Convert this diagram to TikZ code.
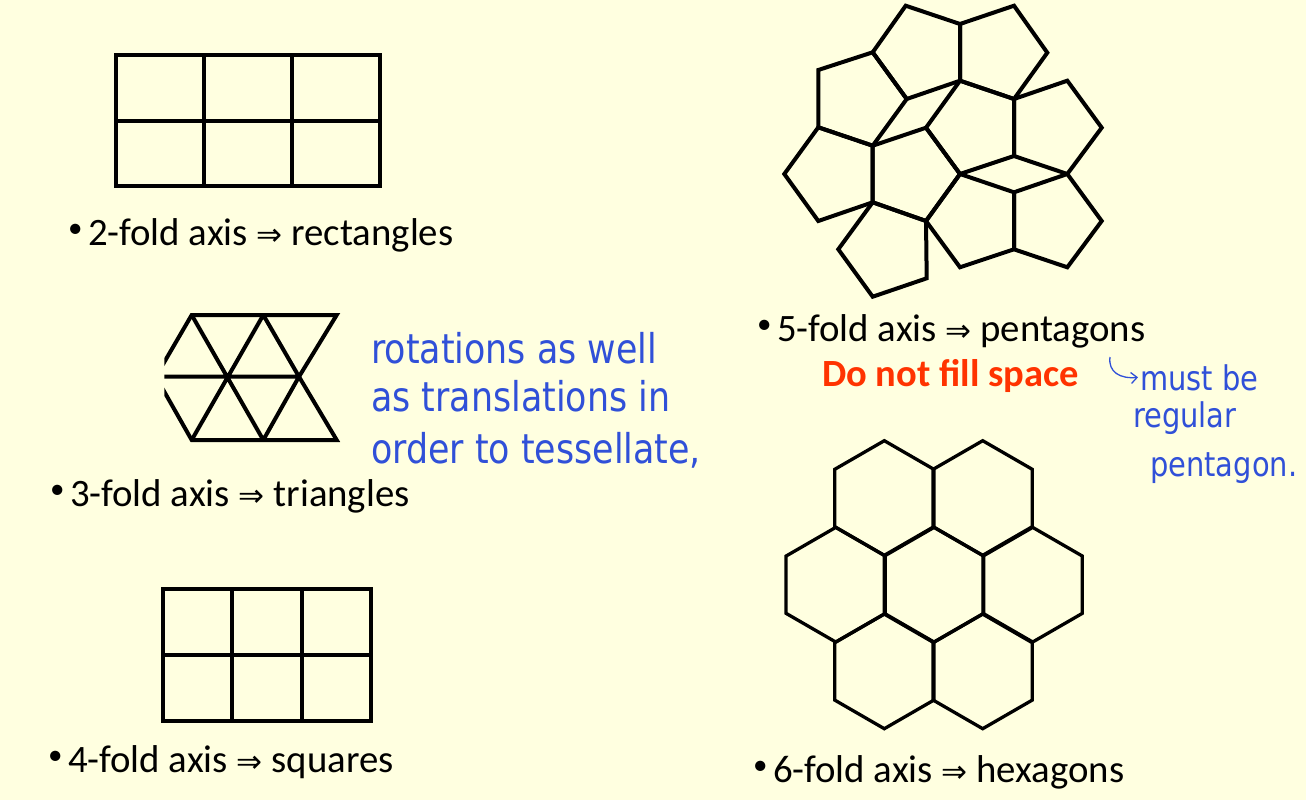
\documentclass[tikz,border=0pt]{standalone}
\usepackage{fontspec}
\setmainfont{Carlito}
\newfontfamily\handfont[FakeStretch=0.85]{DejaVu Sans}
\newfontfamily\arrowfont{DejaVu Sans}
\usetikzlibrary{positioning,arrows.meta}
\definecolor{slidebg}{HTML}{FFFFE0}
\definecolor{inkblue}{HTML}{3050D8}
\definecolor{warnred}{HTML}{FF3300}
\newcommand{\bul}{\makebox[20pt][l]{\raisebox{8pt}{\fontsize{29}{29}\selectfont •}}}
\newcommand{\implies}{{\arrowfont\fontsize{31}{31}\selectfont ⇒}}
\tikzset{
    tiling/.style = {
        draw=black,
        line width=4pt,
        line join=miter
    },
    hextiling/.style = {
        tiling,
        line width=3.3pt
    },
    bulletlabel/.style = {
        anchor=base west,
        inner sep=0pt,
        font=\fontsize{38.8}{40}\selectfont
    },
    warnlabel/.style = {
        bulletlabel,
        font=\fontsize{38.5}{40}\selectfont\bfseries,
        text=warnred
    },
    handnote/.style = {
        anchor=base west,
        inner sep=0pt,
        font=\handfont\fontsize{41}{44}\selectfont,
        text=inkblue
    },
    smallhandnote/.style = {
        handnote,
        font=\handfont\fontsize{34}{37}\selectfont
    }
}

\begin{document}
\begin{tikzpicture}[x=1pt,y=-1pt]
    \fill[slidebg] (0,0) rectangle (1306,800);
    \useasboundingbox (0,0) rectangle (1306,800);

    % 2-fold: rectangles
    \draw[tiling] (115.7,55) rectangle (380,186);
    \draw[tiling] (115.7,121) -- (380,121)
        (204.3,55) -- (204.3,186)
        (292.3,55) -- (292.3,186);
    \node[bulletlabel] (rectlabel) at (68,245) {\bul 2-fold axis \implies{} rectangles};

    % 3-fold: triangles
    \begin{scope}
        \clip (164.3,300) rectangle (360,460);
        \draw[tiling] (191.7,315) -- (336.7,315) -- (299,376.7) -- (336.7,440)
            -- (191.7,440) -- (155.8,376.7) -- cycle;
        \draw[tiling] (155.8,376.7) -- (299,376.7)
            (191.7,315) -- (263.3,440)
            (263.3,315) -- (191.7,440)
            (263.3,315) -- (299,376.7) -- (263.3,440);
    \end{scope}
    \node[bulletlabel] (trilabel) at (50,506.5) {\bul 3-fold axis \implies{} triangles};
    \node[handnote] (note1) at (371,363) {rotations as well};
    \node[handnote] (note2) at ([yshift=-48pt]note1.base west) {as translations in};
    \node[handnote] (note3) at ([yshift=-52pt]note2.base west) {order to tessellate,};

    % 4-fold: squares
    \draw[tiling] (162.7,589.3) rectangle (370.7,720.7);
    \draw[tiling] (162.7,655) -- (370.7,655)
        (231.7,589.3) -- (231.7,720.7)
        (301.7,589.3) -- (301.7,720.7);
    \node[bulletlabel] (sqlabel) at (48,772) {\bul 4-fold axis \implies{} squares};

    % 5-fold: pentagons
    \foreach \n/\x/\y in {a/905.7/5.7, b/960/24, c/1014/5.7, d/1047.3/52.7,
        e/960/80.7, f/1014/99, g/872.7/52.3, h/906.7/99, i/818.3/70,
        j/818.3/127.3, k/872.7/145.7, l/926/127.7, m/960/174, n/1014/156,
        o/1067.3/80.7, p/1101.7/127.7, q/1067.3/174, r/784.3/174,
        s/818.3/221, t/872.7/202.3, u/926/221, v/1014/192.3, w/1101.7/221,
        x/1067.3/267.3, y/1014/249.3, z/960/267.3, aa/838.3/249.3,
        ab/872.7/296.7, ac/926.7/278.3}
        \coordinate (v\n) at (\x,\y);
    \foreach \p/\q/\r/\s/\t in {a/b/e/h/g, b/c/d/f/e, i/g/h/k/j, e/f/n/m/l,
        f/o/p/q/n, j/k/t/s/r, k/l/m/u/t, m/v/y/z/u, v/q/w/x/y, t/u/ac/ab/aa}
        \draw[tiling] (v\p) -- (v\q) -- (v\r) -- (v\s) -- (v\t) -- cycle;
    \node[bulletlabel] (pentlabel) at (757,341) {\bul 5-fold axis \implies{} pentagons};
    \node[warnlabel] (nofill) at (822,386) {Do not fill space};
    \node[smallhandnote] (note4) at (1140,390) {must be};
    \node[smallhandnote] (note5) at (1133,427) {regular};
    \node[smallhandnote] (note6) at (1150,476) {pentagon.};
    \coordinate (hookstart) at (1110,357);
    \draw[inkblue, line width=1.3pt, -{Straight Barb[length=6pt,width=11pt]}] (hookstart)
        .. controls (1108,372) and (1120,379) .. ([xshift=-2pt]note4.west);

    % 6-fold: hexagons
    \foreach \cx/\cy in {934/584.7, 835.7/584.7, 1032.7/584.7, 884.3/498,
        982.7/498, 884.3/671.4, 982.7/671.4}
        \draw[hextiling] (\cx,\cy) +(30:57.3) -- +(90:57.3) -- +(150:57.3)
            -- +(210:57.3) -- +(270:57.3) -- +(330:57.3) -- cycle;
    \node[bulletlabel] (hexlabel) at (753,782) {\bul 6-fold axis \implies{} hexagons};
\end{tikzpicture}
\end{document}
